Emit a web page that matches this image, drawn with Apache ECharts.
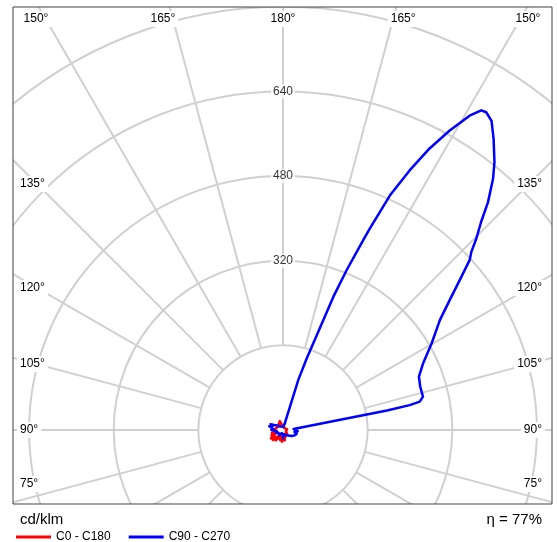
<!DOCTYPE html>
<html>
<head>
<meta charset="utf-8">
<script src="https://cdn.jsdelivr.net/npm/echarts@6/dist/echarts.min.js"></script>
<style>
  html, body { margin: 0; padding: 0; background: #fff; }
  #chart { width: 557px; height: 542px; }
</style>
</head>
<body>
<div id="chart"></div>
<script>
// ---------------- data ----------------
const angleTickLabels = [75, 90, 105, 120, 135, 150, 165, 180];
const radiusTickLabels = [320, 480, 640];
const seriesNames = ['C0 - C180', 'C90 - C270'];
const unitLabel = 'cd/klm';
const efficiencyLabel = 'η = 77%';

// gamma angles for the low-level (noisy) parts of the curves
const noiseGamma = [0, 5, 10, 15, 20, 25, 30, 35, 40, 45, 50, 55, 60, 65, 70, 75, 80, 85, 90,
  95, 100, 105, 110, 115, 120, 125, 130, 135, 140, 145, 150, 155, 160, 165, 170, 175, 180];
const c0Values = [18, 12, 20, 9, 14, 8, 12, 7, 11, 6, 10, 7, 12, 6, 9, 5, 8, 6, 7,
  5, 8, 5, 7, 5, 6, 5, 7, 5, 6, 5, 6, 5, 7, 5, 6, 5, 5];
const c180Values = [18, 22, 14, 20, 12, 18, 14, 24, 16, 27, 20, 28, 18, 24, 15, 22, 12, 18, 14,
  16, 10, 14, 9, 12, 8, 11, 9, 12, 10, 14, 16, 22, 18, 12, 8, 6, 5];
const c270Values = [5, 7, 5, 9, 6, 10, 7, 12, 8, 11, 9, 13, 10, 14, 9, 16, 12, 19, 22,
  18, 24, 27, 21, 26, 19, 16, 13, 11, 9, 8, 7, 6, 5, 5, 4, 4, 4];

// C90 half-plane (main lobe)
const c90Gamma = [0, 5, 10, 15, 20, 25, 30, 35, 40, 45, 50, 55, 60, 65, 70, 75, 80, 85, 90, 95,
  100, 100.6, 101.1, 101.7, 103.4, 107.5, 111.4, 115.4, 120.2, 125, 127.9, 130.3, 132.3, 133.4,
  134.7, 136.4, 138, 140.1, 141.7, 144.1, 146, 147.4, 148.2, 149.3, 150.9, 152.5, 154, 155.5,
  156.7, 157.1, 158.3, 159.3, 161.7, 163, 164, 165, 170, 175, 180];
const c90Values = [18, 8, 6, 9, 7, 10, 8, 12, 10, 15, 12, 20, 16, 24, 20, 27, 22, 28, 24, 20,
  18, 200, 244, 264, 272, 272, 276, 293, 325, 362, 399, 438, 477, 490,
  514, 543, 579, 619, 645, 679, 705, 713, 711, 691, 648, 600, 546, 487,
  414, 389, 325, 269, 142, 99, 25, 12, 8, 6, 4];

// ---------------- layout ----------------
const CX = 283, CY = 430;
const PX_PER_UNIT = 0.529;
const R_MAX = 960;
const R_INNER = 160;
const BOX = { l: 13, t: 7, r: 552, b: 504 };
const GRID_COLOR = '#d0d0d0';
const TEXT_COLOR = '#000';
const FONT = '"Liberation Sans", Arial, Helvetica, sans-serif';

// build [radius, angle] pairs; right half-plane angle = gamma, left = 360 - gamma
function half(gammas, values, leftSide) {
  return gammas.map((g, i) => [values[i], leftSide ? 360 - g : g]);
}
function loop(rightG, rightV, leftG, leftV) {
  const a = half(rightG, rightV, false);
  const b = half(leftG, leftV, true).reverse();
  return a.concat(b);
}
const redData = loop(noiseGamma, c0Values, noiseGamma, c180Values);
const blueData = loop(c90Gamma, c90Values, noiseGamma, c270Values);

// angle labels positioned where spokes reach the frame
function angleLabelGraphics() {
  const out = [];
  const TOP_Y = 19, SIDE_D = 246, BOTTOM_Y = 484;
  angleTickLabels.forEach(g => {
    const sides = g === 180 ? [1] : [-1, 1];
    sides.forEach(side => {
      const phi = (180 - g) * Math.PI / 180;
      const s = Math.sin(phi), c = Math.cos(phi);
      let x, y, align;
      const tTop = c > 0 ? (CY - TOP_Y) / c : Infinity;
      const tSide = s > 1e-9 ? SIDE_D / s : Infinity;
      if (tTop <= tSide) {
        y = TOP_Y;
        x = CX + side * (tTop * s + (s > 1e-9 ? 10 : 0));
        x = Math.max(36, Math.min(528, x));
        align = 'center';
      } else {
        y = CY - SIDE_D * c / s;
        y = Math.max(TOP_Y, Math.min(BOTTOM_Y, y));
        x = side < 0 ? 17 : 545;
        align = side < 0 ? 'left' : 'right';
      }
      out.push({
        type: 'text', x: x, y: y, z: 60,
        style: {
          text: g + '°', font: '12px ' + FONT, fill: TEXT_COLOR,
          align: align, verticalAlign: 'middle',
          textAlign: align, textVerticalAlign: 'middle',
          backgroundColor: '#fff', padding: [2, 3]
        }
      });
    });
  });
  return out;
}

const chart = echarts.init(document.getElementById('chart'), null, { renderer: 'canvas' });

const option = {
  animation: false,
  backgroundColor: '#fff',
  polar: [
    { center: [CX, CY], radius: [R_INNER * PX_PER_UNIT, R_MAX * PX_PER_UNIT] },
    { center: [CX, CY], radius: [0, R_MAX * PX_PER_UNIT] }
  ],
  angleAxis: [
    {
      polarIndex: 0, type: 'value', min: 0, max: 360, interval: 15, startAngle: 90,
      axisLine: { show: false }, axisTick: { show: false }, axisLabel: { show: false },
      splitLine: { show: true, lineStyle: { color: GRID_COLOR, width: 2 } }
    },
    {
      polarIndex: 1, type: 'value', min: 0, max: 360, startAngle: -90, clockwise: false,
      axisLine: { show: false }, axisTick: { show: false }, axisLabel: { show: false },
      splitLine: { show: false }
    }
  ],
  radiusAxis: [
    {
      polarIndex: 0, type: 'value', min: 160, max: R_MAX, interval: 160,
      axisLine: { show: false }, axisTick: { show: false }, axisLabel: { show: false },
      splitLine: { show: true, lineStyle: { color: GRID_COLOR, width: 2 } }
    },
    {
      polarIndex: 1, type: 'value', min: 0, max: R_MAX,
      axisLine: { show: false }, axisTick: { show: false }, axisLabel: { show: false },
      splitLine: { show: false }
    }
  ],
  legend: {
    left: 11, top: 526, z: 100,
    icon: 'rect', itemWidth: 35, itemHeight: 3, itemGap: 18,
    textStyle: { fontFamily: FONT, fontSize: 12, color: TEXT_COLOR },
    data: seriesNames
  },
  series: [
    {
      name: seriesNames[0], type: 'line', coordinateSystem: 'polar', polarIndex: 1,
      data: redData, showSymbol: false, symbol: 'none', smooth: false, z: 3,
      lineStyle: { color: '#ff0000', width: 2.5, join: 'round' }, itemStyle: { color: '#ff0000' }
    },
    {
      name: seriesNames[1], type: 'line', coordinateSystem: 'polar', polarIndex: 1,
      data: blueData, showSymbol: false, symbol: 'none', smooth: false, z: 4,
      lineStyle: { color: '#0000ff', width: 2.5, join: 'round' }, itemStyle: { color: '#0000ff' }
    },
    {
      type: 'scatter', coordinateSystem: 'polar', polarIndex: 1, z: 5,
      data: radiusTickLabels.map(v => [v, 180]),
      symbolSize: 1, itemStyle: { color: 'rgba(0,0,0,0)' },
      silent: true,
      label: {
        show: true, position: 'inside', formatter: p => String(p.value[0]),
        fontFamily: FONT, fontSize: 12, color: TEXT_COLOR,
        backgroundColor: '#fff', padding: [1, 2]
      }
    }
  ],
  graphic: [
    { type: 'rect', z: 50, shape: { x: 0, y: 0, width: 557, height: BOX.t }, style: { fill: '#fff' } },
    { type: 'rect', z: 50, shape: { x: 0, y: BOX.b, width: 557, height: 542 - BOX.b }, style: { fill: '#fff' } },
    { type: 'rect', z: 50, shape: { x: 0, y: 0, width: BOX.l, height: 542 }, style: { fill: '#fff' } },
    { type: 'rect', z: 50, shape: { x: BOX.r, y: 0, width: 557 - BOX.r, height: 542 }, style: { fill: '#fff' } },
    { type: 'rect', z: 55, shape: { x: BOX.l, y: BOX.t, width: BOX.r - BOX.l, height: BOX.b - BOX.t },
      style: { fill: 'none', stroke: '#404040', lineWidth: 1 } },
    { type: 'text', z: 60, x: 20, y: 520,
      style: { text: unitLabel, font: '15px ' + FONT, fill: TEXT_COLOR,
        align: 'left', verticalAlign: 'middle', textAlign: 'left', textVerticalAlign: 'middle' } },
    { type: 'text', z: 60, x: 542, y: 520,
      style: { text: efficiencyLabel, font: '15px ' + FONT, fill: TEXT_COLOR,
        align: 'right', verticalAlign: 'middle', textAlign: 'right', textVerticalAlign: 'middle' } }
  ].concat(angleLabelGraphics())
};

chart.setOption(option);
</script>
</body>
</html>
